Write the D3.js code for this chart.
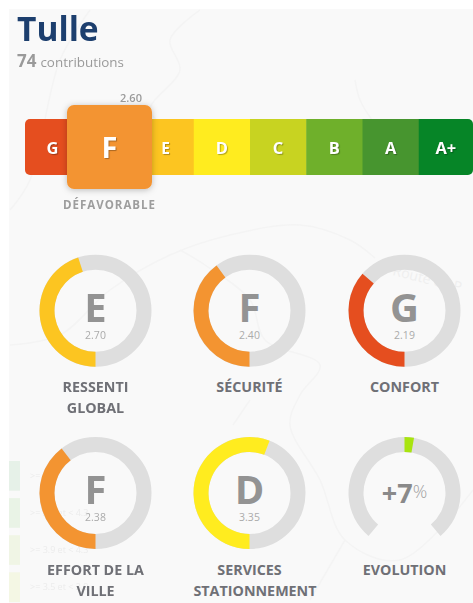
<!DOCTYPE html>
<html><head><meta charset="utf-8">
<script src="https://cdnjs.cloudflare.com/ajax/libs/d3/7.8.5/d3.min.js"></script>
<style>
html,body{margin:0;padding:0;background:#fff;overflow:hidden}
svg{display:block;filter:blur(.45px)}
text{font-family:"Open Sans",sans-serif}
.sh{text-shadow:1px 1px 1px rgba(0,0,0,.3)}
</style></head><body><svg id="c" width="473" height="603"></svg>
<script>
// Data
const title = "Tulle";
const contributions = 74;
const grades = ["G","F","E","D","C","B","A","A+"];
const gradeColors = ["#e54e1f","#f39431","#fcc521","#ffec1f","#c8d321","#6fb02b","#47952f","#068527"];
const currentGrade = "F";
const currentScore = "2.60";
const currentLabel = "DÉFAVORABLE";
const ringGrades = ["E","F","G","F","D"];
const ringScores = [2.70,2.40,2.19,2.38,3.35];
const ringLabels = [["RESSENTI","GLOBAL"],["SÉCURITÉ"],["CONFORT"],["EFFORT DE LA","VILLE"],["SERVICES","STATIONNEMENT"]];
const evolutionValue = 7;
const evolutionLabel = "EVOLUTION";
const legendColors = ["#e6f1e8","#e9f3e6","#f0f5e5","#f4f7e4"];
const legendTexts = [">= 4.3",">= 3.9 et < 4.3",">= 3.9 et < 4.3",">= 3.5 et < 3.9"];

const svg = d3.select("#c");
svg.append("rect").attr("x",9).attr("y",9).attr("width",464).attr("height",594).attr("fill","#f9f9f9");

// faint map background
const roads = [
 [[200,10],[170,40],[180,70],[150,110],[170,130]],
 [[10,345],[60,335],[110,290],[170,255],[230,235],[300,225],[350,240],[375,258]],
 [[355,80],[360,100],[372,120]],
 [[180,250],[205,265],[250,300],[265,340],[320,365],[300,395],[290,425],[320,480],[345,540],[400,560],[473,490]],
 [[345,540],[310,600]],[[250,400],[233,425]],[[90,10],[60,60],[30,180],[10,210]]
];
const roadLine = d3.line().curve(d3.curveCatmullRom);
svg.append("g").selectAll("path").data(roads).join("path")
  .attr("d",roadLine).attr("fill","none").attr("stroke","#f4f4f4").attr("stroke-width",1.5);
svg.append("text").attr("x",392).attr("y",275).attr("font-size",14).attr("fill","#efefef")
  .attr("transform","rotate(14 392 275)").text("Route de P");

// faint legend behind the rings
const legendY = d3.scaleBand().domain(d3.range(legendColors.length)).range([461,602]).paddingInner(.2).paddingOuter(0);
svg.append("g").selectAll("rect").data(legendColors).join("rect")
  .attr("x",9).attr("width",11).attr("y",(d,i)=>legendY(i)).attr("height",legendY.bandwidth()).attr("fill",d=>d);
svg.append("g").selectAll("text").data(legendTexts).join("text")
  .attr("x",30).attr("y",(d,i)=>legendY(i)+legendY.bandwidth()/2+3).attr("font-size",9).attr("fill","#ececec").text(d=>d);

// title
svg.append("text").attr("x",17).attr("y",41).attr("font-size",33.5).attr("font-weight",700).attr("fill","#1d3f6e").text(title);
const sub = svg.append("text").attr("x",17).attr("y",67).attr("fill","#9a9a9a");
sub.append("tspan").attr("font-size",17).attr("font-weight",700).text(contributions);
sub.append("tspan").attr("font-size",13.4).attr("dx",4).text("contributions");

// grade bar
const x = d3.scaleBand().domain(grades).range([25,475]);
const barY = 119, barH = 56;
const defs = svg.append("defs");
defs.append("clipPath").attr("id","barclip").append("rect")
  .attr("x",25).attr("y",barY).attr("width",448).attr("height",barH).attr("rx",5);
const f = defs.append("filter").attr("id","sq").attr("x","-20%").attr("y","-20%").attr("width","140%").attr("height","140%");
f.append("feDropShadow").attr("dx",0).attr("dy",1).attr("stdDeviation",3).attr("flood-color","#000").attr("flood-opacity",.25);

svg.append("g").attr("clip-path","url(#barclip)").selectAll("rect").data(grades).join("rect")
  .attr("x",d=>x(d)).attr("y",barY).attr("width",x.bandwidth()+.5).attr("height",barH)
  .attr("fill",(d,i)=>gradeColors[i]);
svg.append("g").selectAll("text").data(grades.filter(g=>g!==currentGrade)).join("text")
  .attr("class","sh").attr("x",d=>d==="G"?52.5:x(d)+x.bandwidth()/2-(d==="A+"?1:0)).attr("y",154)
  .attr("text-anchor","middle").attr("font-size",d=>d==="E"?15.5:16.5).attr("font-weight",700).attr("fill","#fff").text(d=>d);

// highlighted grade
const fi = grades.indexOf(currentGrade);
const fx = 67, fw = 85;
svg.append("rect").attr("x",fx).attr("y",105).attr("width",fw).attr("height",84).attr("rx",7)
  .attr("fill",gradeColors[fi]).attr("filter","url(#sq)");
svg.append("text").attr("class","sh").attr("x",fx+fw/2).attr("y",158).attr("text-anchor","middle")
  .attr("font-size",29).attr("font-weight",700).attr("fill","#fff").text(currentGrade);
svg.append("text").attr("x",131).attr("y",102).attr("text-anchor","middle").attr("font-size",11).attr("font-weight",600).attr("fill","#9a9a9a").text(currentScore);
svg.append("text").attr("x",109.5).attr("y",209).attr("text-anchor","middle").attr("font-size",11.5).attr("font-weight",700).attr("letter-spacing",1).attr("fill","#9d9d9d").text(currentLabel);

// rings
const cxs = [95.5,249.5,404.5], cys = [310.7,493];
const R = 56, r = 41;
const angle = d3.scaleLinear().domain([0,6]).range([Math.PI,3*Math.PI]);
const arc = d3.arc().innerRadius(r).outerRadius(R);
const colorOf = g => gradeColors[grades.indexOf(g)];
const labelColor = "#6f7076";
const labelY = [391.5,574.5];

ringGrades.forEach((g,i)=>{
  const row = Math.floor(i/3);
  const cx = cxs[i%3], cy = cys[row];
  const G = svg.append("g").attr("transform",`translate(${cx},${cy})`);
  G.append("circle").attr("r",(R+r)/2).attr("fill","none").attr("stroke","#dedede").attr("stroke-width",R-r);
  G.append("path").attr("fill",colorOf(g)).attr("d",arc({startAngle:angle(0),endAngle:angle(ringScores[i])}));
  G.append("text").attr("y",11).attr("text-anchor","middle").attr("font-size",40).attr("font-weight",700).attr("fill","#939393").text(g);
  G.append("text").attr("y",28).attr("text-anchor","middle").attr("font-size",10.5).attr("fill","#ababab").text(ringScores[i].toFixed(2));
  const t = svg.append("text").attr("text-anchor","middle").attr("font-size",14.3).attr("font-weight",700).attr("fill",labelColor);
  ringLabels[i].forEach((l,j)=>t.append("tspan").attr("x",l==="STATIONNEMENT"?cx+5.5:cx).attr("y",labelY[row]+j*21).text(l));
});

// evolution gauge
{
  const cx = cxs[2], cy = cys[1];
  const G = svg.append("g").attr("transform",`translate(${cx},${cy})`);
  const maxA = 140*Math.PI/180;
  const evo = d3.scaleLinear().domain([-100,100]).range([-maxA,maxA]);
  G.append("path").attr("fill","#dedede").attr("d",arc({startAngle:evo(-100),endAngle:evo(100)}));
  G.append("path").attr("fill","#a8e40f").attr("d",arc({startAngle:evo(0),endAngle:evo(evolutionValue)}));
  const t = G.append("text").attr("y",10).attr("text-anchor","middle").attr("fill","#8a8a8a");
  t.append("tspan").attr("font-size",27).attr("font-weight",700).text("+"+evolutionValue);
  t.append("tspan").attr("font-size",18).attr("font-weight",300).attr("dy",-5).attr("fill","#a0a0a0").text("%");
  svg.append("text").attr("x",cx).attr("y",labelY[1]).attr("text-anchor","middle").attr("font-size",14.3).attr("font-weight",700).attr("fill",labelColor).text(evolutionLabel);
}
</script></body></html>
